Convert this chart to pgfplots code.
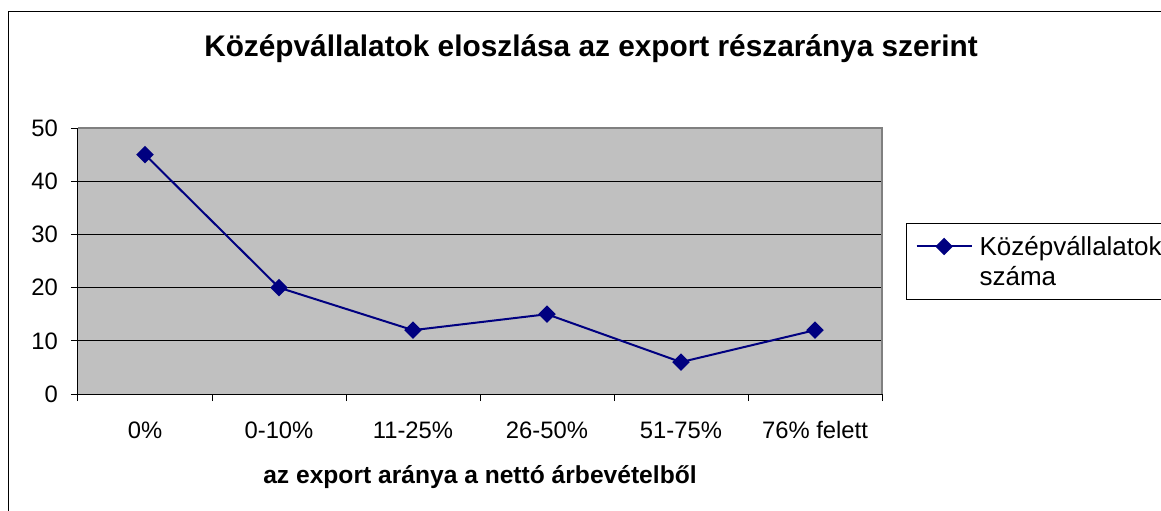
\documentclass[border=0pt]{standalone}
\usepackage{fontspec}
\setmainfont{Liberation Sans}
\usepackage{pgfplots}
\pgfplotsset{compat=1.18}
\definecolor{navyline}{RGB}{0,0,128}
\definecolor{plotgray}{RGB}{192,192,192}
\definecolor{framegray}{RGB}{128,128,128}

\begin{document}
\begin{tikzpicture}
\useasboundingbox (0,0) rectangle (580.5pt,-255pt);
% outer chart frame (cropped on the right and bottom)
\draw[line width=0.6pt] (4.2pt,-260pt) -- (4.2pt,-5.6pt) -- (590pt,-5.6pt);
\node[anchor=base, font=\bfseries\fontsize{14.9}{17}\selectfont] at (295.5pt,-28pt)
  {Középvállalatok eloszlása az export részaránya szerint};
\begin{axis}[
  at={(39pt,-197pt)}, anchor=south west,
  width=402pt, height=133pt, scale only axis,
  xmin=-0.5, xmax=5.5, ymin=0, ymax=50,
  axis background/.style={fill=plotgray},
  axis x line*=bottom, axis y line*=left,
  axis line style={-, black, line width=0.5pt},
  xtick={0,...,5},
  xticklabels={0\%,0-10\%,11-25\%,26-50\%,51-75\%,76\% felett},
  ytick={0,10,...,50},
  minor xtick={-0.5,0.5,...,5.5},
  minor ytick={0,10,...,50},
  tick align=outside,
  major tick length=0pt, minor tick length=3.5pt,
  minor tick style={black, line width=0.5pt},
  ymajorgrids, grid style={black, line width=0.5pt},
  ticklabel style={font=\fontsize{11.9}{14}\selectfont},
  /pgf/number format/assume math mode=true,
  xticklabel style={anchor=base, yshift=-22pt},
  yticklabel style={xshift=-6.5pt},
  xlabel={az export aránya a nettó árbevételből},
  xlabel style={font=\bfseries\fontsize{12.3}{14}\selectfont, anchor=base,
    at={(axis description cs:0.5,-0.338)}},
  legend style={at={(axis description cs:1.0299,0.643)}, anchor=north west,
    draw=black, line width=0.5pt, font=\fontsize{13}{15}\selectfont,
    inner xsep=4.5pt, inner ysep=3pt, row sep=-2pt, column sep=3.5pt,
    nodes={inner xsep=0pt, inner ysep=1pt, text height=12pt, text depth=3pt}},
  legend cell align=left,
  legend image code/.code={\draw[mark repeat=2,mark phase=2,#1] plot coordinates {(0pt,0pt)(13.75pt,0pt)(27.5pt,0pt)};},
  after end axis/.code={\draw[framegray, line width=1pt] (rel axis cs:0,1) -- (rel axis cs:1,1) -- (rel axis cs:1,0);},
]
\addplot[navyline, line width=1pt, mark=square*, mark size=2.6pt,
  mark options={rotate=45, solid}] coordinates {
  (0,45) (1,20) (2,12) (3,15) (4,6) (5,12)
};
\addlegendentry{Középvállalatok\hspace*{8pt}}
\addlegendimage{empty legend}
\addlegendentry{száma}
\end{axis}
\end{tikzpicture}
\end{document}
